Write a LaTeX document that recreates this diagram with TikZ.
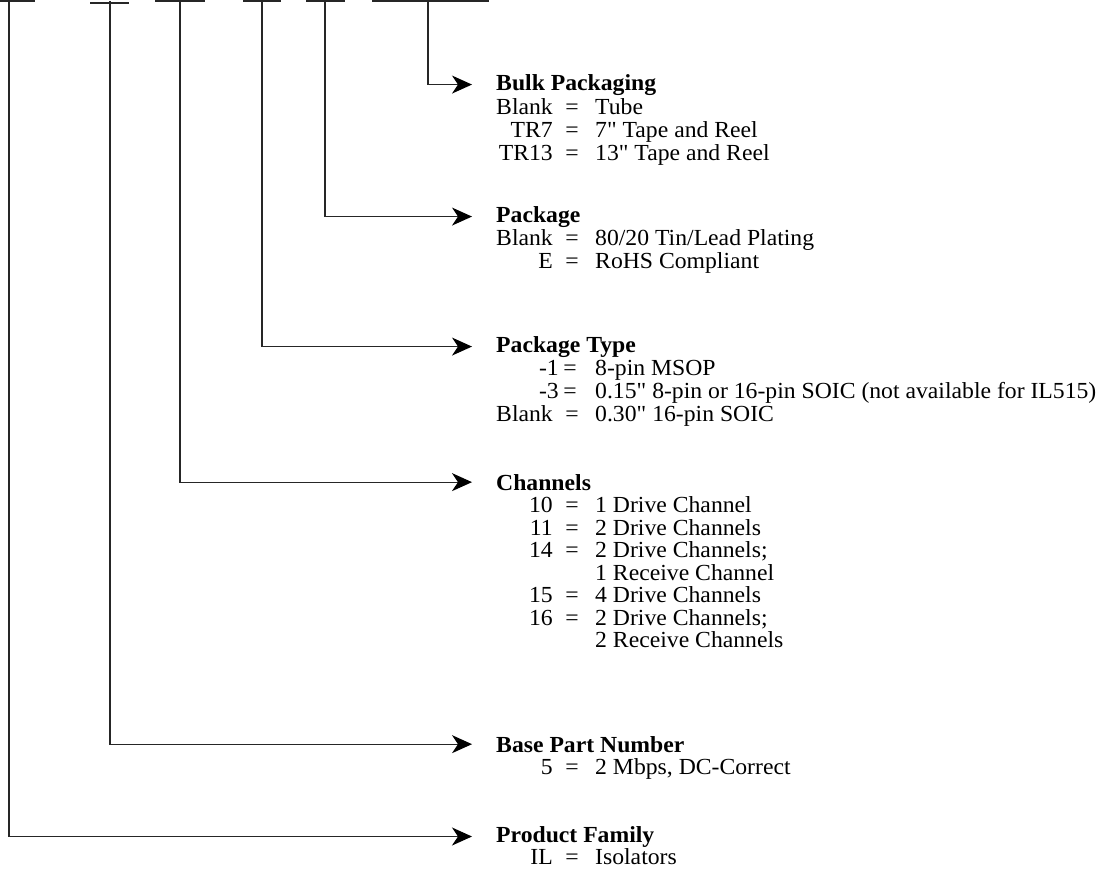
\documentclass[tikz,border=0pt]{standalone}
\usepackage{fontspec}
\setmainfont{Liberation Serif}[FakeStretch=1.03, Ligatures=TeXOff]
\usetikzlibrary{arrows.meta}
\newcommand\qq{\char34\relax}
\begin{document}
\begin{tikzpicture}[x=1pt,y=-1pt,
  conn/.style={line width=1.2pt, draw=black!85, -{Stealth[length=20pt,width=18pt,inset=6pt,color=black]}, shorten >=24pt},
  bar/.style={line width=1.2pt, draw=black!85},
  head/.style={anchor=base west, inner sep=0pt, font=\fontsize{23}{25}\selectfont\bfseries},
  lab/.style={anchor=base east, inner sep=0pt, font=\fontsize{23}{25}\selectfont},
  eqs/.style={anchor=base, inner sep=0pt, font=\fontsize{23}{25}\selectfont},
  val/.style={anchor=base west, inner sep=0pt, font=\fontsize{23}{25}\selectfont}]
\useasboundingbox (0,0) rectangle (1104,876);
% top bars
\coordinate (t1) at (9,1);
\coordinate (t2) at (110,1);
\coordinate (t3) at (180,1);
\coordinate (t4) at (262,1);
\coordinate (t5) at (325,1);
\coordinate (t6) at (428,1);
\draw[bar] (0,1) -- (35,1);
\draw[bar] (90,3) -- (129,3);
\draw[bar] (155,1) -- (205,1);
\draw[bar] (243,1) -- (281,1);
\draw[bar] (306,1) -- (345,1);
\draw[bar] (372,1) -- (489,1);
% headings
\def\hx{496}
\node[head] (h6) at (\hx,90) {Bulk Packaging};
\node[head] (h5) at (\hx,222) {Package};
\node[head] (h4) at (\hx,352) {Package Type};
\node[head] (h3) at (\hx,490) {Channels};
\node[head] (h2) at (\hx,752) {Base Part Number};
\node[head] (h1) at (\hx,842) {Product Family};
% connectors
\draw[conn] (t6) |- (h6.west);
\draw[conn] (t5) |- (h5.west);
\draw[conn] (t4) |- (h4.west);
\draw[conn] (t3) |- (h3.west);
\draw[conn] (t2) |- (h2.west);
\draw[conn] (t1) |- (h1.west);
% items
\def\lx{553}\def\ex{572}\def\vx{595}
% Bulk packaging
\node[lab] (a1l) at (\lx,114) {Blank}; \node[eqs] (a1e) at (\ex,114) {=}; \node[val] (a1v) at (\vx,114) {Tube};
\node[lab] (a2l) at (\lx,137) {TR7}; \node[eqs] (a2e) at (\ex,137) {=}; \node[val] (a2v) at (\vx,137) {7\qq{} Tape and Reel};
\node[lab] (a3l) at (\lx,160) {TR13}; \node[eqs] (a3e) at (\ex,160) {=}; \node[val] (a3v) at (\vx,160) {13\qq{} Tape and Reel};
% Package
\node[lab] (b1l) at (\lx,245) {Blank}; \node[eqs] (b1e) at (\ex,245) {=}; \node[val] (b1v) at (\vx,245) {80/20 Tin/Lead Plating};
\node[lab] (b2l) at (\lx,268) {E}; \node[eqs] (b2e) at (\ex,268) {=}; \node[val] (b2v) at (\vx,268) {RoHS Compliant};
% Package type
\node[lab] (c1l) at (559,375) {-1}; \node[eqs] (c1e) at (570,375) {=}; \node[val] (c1v) at (\vx,375) {8-pin MSOP};
\node[lab] (c2l) at (559,398) {-3}; \node[eqs] (c2e) at (570,398) {=}; \node[val] (c2v) at (\vx,398) {0.15\qq{} 8-pin or 16-pin SOIC (not available for IL515)};
\node[lab] (c3l) at (\lx,421) {Blank}; \node[eqs] (c3e) at (\ex,421) {=}; \node[val] (c3v) at (\vx,421) {0.30\qq{} 16-pin SOIC};
% Channels
\node[lab] (d1l) at (\lx,512.5) {10}; \node[eqs] (d1e) at (\ex,512.5) {=}; \node[val] (d1v) at (\vx,512.5) {1 Drive Channel};
\node[lab] (d2l) at (\lx,535) {11}; \node[eqs] (d2e) at (\ex,535) {=}; \node[val] (d2v) at (\vx,535) {2 Drive Channels};
\node[lab] (d3l) at (\lx,557.5) {14}; \node[eqs] (d3e) at (\ex,557.5) {=}; \node[val] (d3v) at (\vx,557.5) {2 Drive Channels;};
\node[val] (d4v) at (\vx,580) {1 Receive Channel};
\node[lab] (d5l) at (\lx,602.5) {15}; \node[eqs] (d5e) at (\ex,602.5) {=}; \node[val] (d5v) at (\vx,602.5) {4 Drive Channels};
\node[lab] (d6l) at (\lx,625) {16}; \node[eqs] (d6e) at (\ex,625) {=}; \node[val] (d6v) at (\vx,625) {2 Drive Channels;};
\node[val] (d7v) at (\vx,647.5) {2 Receive Channels};
% Base part number
\node[lab] (e1l) at (\lx,774) {5}; \node[eqs] (e1e) at (\ex,774) {=}; \node[val] (e1v) at (\vx,774) {2 Mbps, DC-Correct};
% Product family
\node[lab] (f1l) at (\lx,864) {IL}; \node[eqs] (f1e) at (\ex,864) {=}; \node[val] (f1v) at (\vx,864) {Isolators};
\end{tikzpicture}
\end{document}
